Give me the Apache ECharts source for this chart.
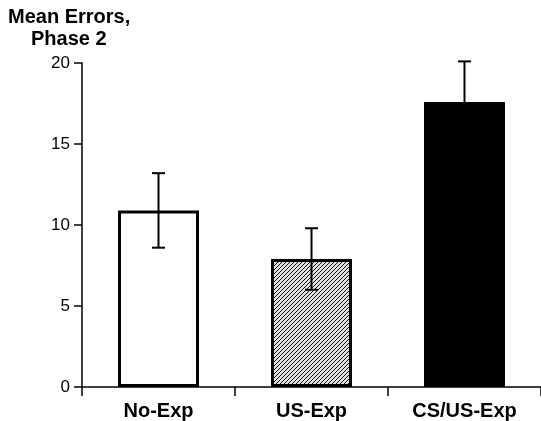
<!DOCTYPE html>
<html>
<head>
<meta charset="utf-8">
<script src="https://cdn.jsdelivr.net/npm/echarts@6/dist/echarts.min.js"></script>
<style>html,body{margin:0;padding:0;background:#fff}#c{width:541px;height:421px}</style>
</head>
<body>
<div id="c"></div>
<script>
const categories = ['No-Exp', 'US-Exp', 'CS/US-Exp'];
const means = [10.9, 7.9, 17.6];
const errors = [2.3, 1.9, 2.5];
const yTicks = [0, 5, 10, 15, 20];
const titleLines = ['Mean Errors,', 'Phase 2'];

// hatch pattern
const pc = document.createElement('canvas');
pc.width = 4; pc.height = 4;
const pctx = pc.getContext('2d');
pctx.fillStyle = '#e0e0e0';
pctx.fillRect(0, 0, 4, 4);
pctx.strokeStyle = '#111';
pctx.lineWidth = 1;
pctx.beginPath();
pctx.moveTo(-1, 5); pctx.lineTo(5, -1);
pctx.moveTo(-1, 1); pctx.lineTo(1, -1);
pctx.moveTo(3, 5); pctx.lineTo(5, 3);
pctx.stroke();

const fills = ['#ffffff', {image: pc, repeat: 'repeat'}, '#000000'];
const font = 'Liberation Sans, Arial, Helvetica';

const chart = echarts.init(document.getElementById('c'), null, {renderer: 'canvas'});
chart.setOption({
  animation: false,
  backgroundColor: '#fff',
  graphic: [
    {type: 'text', left: 8, top: 7, style: {text: titleLines[0], font: 'bold 20px ' + font, fill: '#000'}},
    {type: 'text', left: 31, top: 29, style: {text: titleLines[1], font: 'bold 20px ' + font, fill: '#000'}}
  ],
  grid: {left: 82, top: 63, width: 465, height: 324},
  xAxis: {
    type: 'category',
    data: categories,
    axisLine: {lineStyle: {color: '#000', width: 1.5}},
    axisTick: {show: true, length: 9, inside: false, lineStyle: {color: '#000', width: 1.5}},
    axisLabel: {fontFamily: font, fontWeight: 'bold', fontSize: 20, color: '#000', margin: 14}
  },
  yAxis: {
    type: 'value', min: 0, max: 20, interval: 5,
    splitLine: {show: false},
    axisLine: {show: true, lineStyle: {color: '#000', width: 1.5}},
    axisTick: {show: true, length: 8, lineStyle: {color: '#000', width: 1.5}},
    axisLabel: {fontFamily: font, fontSize: 17, color: '#000', margin: 12,
      formatter: v => yTicks.includes(v) ? String(v) : ''}
  },
  series: [
    {
      type: 'bar',
      barWidth: 81,
      data: means.map((v, i) => ({value: v, itemStyle: {color: fills[i], borderColor: '#000', borderWidth: 3}})),
      z: 2
    },
    {
      type: 'custom',
      z: 5,
      data: means.map((m, i) => [i, m - errors[i], m + errors[i]]),
      renderItem: function (params, api) {
        const x = api.value(0);
        const lo = api.coord([x, api.value(1)]);
        const hi = api.coord([x, api.value(2)]);
        const w = 6.5;
        const style = {stroke: '#000', lineWidth: 2};
        return {
          type: 'group',
          children: [
            {type: 'line', shape: {x1: lo[0], y1: lo[1], x2: hi[0], y2: hi[1]}, style},
            {type: 'line', shape: {x1: hi[0] - w, y1: hi[1], x2: hi[0] + w, y2: hi[1]}, style},
            {type: 'line', shape: {x1: lo[0] - w, y1: lo[1], x2: lo[0] + w, y2: lo[1]}, style}
          ]
        };
      }
    }
  ]
});
</script>
</body>
</html>
